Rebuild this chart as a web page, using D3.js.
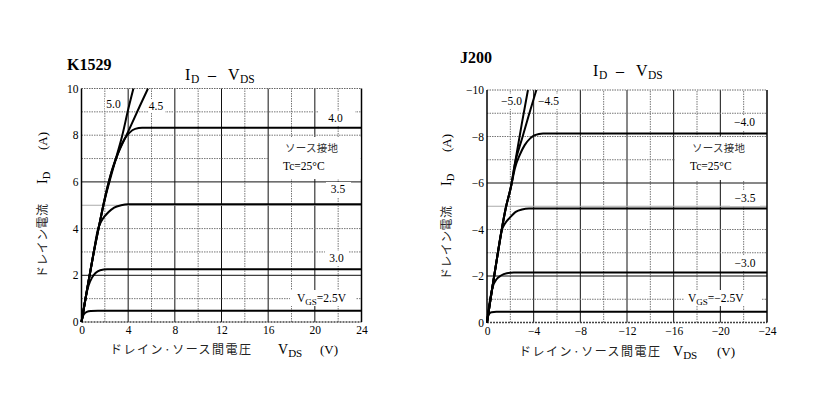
<!DOCTYPE html>
<html><head><meta charset="utf-8">
<script src="https://cdn.jsdelivr.net/npm/d3@7"></script>
<style>body{margin:0;background:#fff}</style>
</head><body>
<svg id="c" width="837" height="399" xmlns="http://www.w3.org/2000/svg"></svg>
<script>
// ---------- data ----------
const kVdsTicks = [0, 4, 8, 12, 16, 20, 24];
const kIdTicks = [0, 2, 4, 6, 8, 10];
const jVdsTicks = [0, -4, -8, -12, -16, -20, -24];
const jIdTicks = [0, -2, -4, -6, -8, -10];
const vdsGridSteps = [2, 4, 6, 8, 10, 12, 14, 16, 18, 20, 22];
const idGridSteps = [1, 2, 3, 4, 5, 6, 7, 8, 9];

// K1529 curves [VDS (V), ID (A)]
const k1529_25 = [[0,0],[0.1,0.22],[0.25,0.36],[0.45,0.43],[0.8,0.47],[1.4,0.48],[24,0.48]];
const k1529_30 = [[0,0],[0.2,0.6],[0.4,1.15],[0.6,1.55],[0.9,1.9],[1.2,2.1],[1.6,2.22],[2.2,2.26],[24,2.26]];
const k1529_35 = [[0,0],[0.5,1.45],[1,2.85],[1.4,3.95],[1.8,4.4],[2.3,4.7],[2.8,4.9],[3.4,5.0],[4,5.04],[24,5.04]];
const k1529_40 = [[0,0],[0.5,1.45],[1,2.85],[1.5,4.1],[2,5.25],[2.5,6.2],[2.9,6.9],[3.3,7.45],[3.7,7.85],[4.1,8.1],[4.6,8.27],[5.2,8.32],[24,8.32]];
const k1529_45 = [[0,0],[0.5,1.45],[1,2.85],[1.5,4.1],[2,5.3],[2.5,6.3],[3,7.05],[4,8.15],[5,9.25],[5.7,10]];
const k1529_50 = [[0,0],[0.5,1.45],[1,2.85],[1.5,4.1],[2,5.3],[2.5,6.3],[3,7.1],[3.5,8.0],[4,9.1],[4.45,10]];
const k1529Series = [k1529_25, k1529_30, k1529_35, k1529_40, k1529_45, k1529_50];

// J200 curves [VDS (V), ID (A)] (P-channel, negative)
const j200_25 = [[0,0],[-0.08,-0.25],[-0.2,-0.38],[-0.4,-0.44],[-0.8,-0.46],[-24,-0.46]];
const j200_30 = [[0,0],[-0.1,-0.45],[-0.25,-0.95],[-0.5,-1.55],[-0.8,-1.85],[-1.2,-2.02],[-1.7,-2.12],[-2.3,-2.15],[-24,-2.15]];
const j200_35 = [[0,0],[-0.3,-1.0],[-0.6,-1.95],[-0.9,-2.9],[-1.23,-3.9],[-1.6,-4.3],[-1.94,-4.5],[-2.5,-4.77],[-3.0,-4.86],[-3.6,-4.9],[-24,-4.9]];
const j200_40 = [[0,0],[-0.3,-1.0],[-0.6,-1.95],[-0.9,-2.9],[-1.23,-3.9],[-1.6,-4.9],[-2.08,-5.9],[-2.4,-6.65],[-2.8,-7.2],[-3.23,-7.63],[-3.7,-7.92],[-4.1,-8.06],[-4.8,-8.13],[-24,-8.13]];
const j200_45 = [[0,0],[-0.3,-1.0],[-0.6,-1.95],[-0.9,-2.9],[-1.23,-3.9],[-1.6,-4.9],[-2.08,-5.9],[-2.37,-6.77],[-3,-7.9],[-3.6,-8.95],[-4.23,-10]];
const j200_50 = [[0,0],[-0.3,-1.0],[-0.6,-1.95],[-0.9,-2.9],[-1.23,-3.9],[-1.6,-4.9],[-2.08,-5.9],[-2.37,-6.77],[-3,-8.6],[-3.51,-10]];
const j200Series = [j200_25, j200_30, j200_35, j200_40, j200_45, j200_50];

// texts
const kVgsLabels = ["VGS=2.5V", "3.0", "3.5", "4.0", "4.5", "5.0"];
const jVgsLabels = ["VGS=−2.5V", "−3.0", "−3.5", "−4.0", "−4.5", "−5.0"];
const partNames = ["K1529", "J200"];
const noteLines = ["ソース接地", "Tc=25°C"];
const yLabelJP = "ドレイン電流";
const xLabelJP = "ドレイン·ソース間電圧";

// ---------- drawing ----------
const svg = d3.select("#c");
const serif = "'Liberation Serif','DejaVu Serif',serif";
const jp = "'Noto Sans CJK JP','Noto Sans CJK SC',sans-serif";

function sub(g, x, y, parts, size, subSize, anchor) {
  const t = g.append("text").attr("x", x).attr("y", y)
    .attr("font-family", serif).attr("font-size", size).attr("fill", "#000")
    .attr("text-anchor", anchor || "start");
  let shifted = false;
  parts.forEach(p => {
    const s = t.append("tspan").text(p[0]);
    if (p[2] !== undefined) s.attr("x", p[2]);
    if (p[1] && !shifted) { s.attr("dy", 3).attr("font-size", subSize); shifted = true; }
    else if (p[1]) { s.attr("font-size", subSize); }
    else if (!p[1] && shifted) { s.attr("dy", -3); shifted = false; }
  });
  return t;
}

function drawChart(cfg) {
  const sgn = cfg.sign;
  const x = d3.scaleLinear().domain([0, 24 * sgn]).range([cfg.x0, cfg.x1]);
  const y = d3.scaleLinear().domain([0, 10 * sgn]).range([cfg.y0, cfg.y1]);
  const g = svg.append("g");

  // vertical grid
  g.selectAll("line.vg").data(vdsGridSteps).join("line")
    .attr("x1", d => x(d * sgn)).attr("x2", d => x(d * sgn))
    .attr("y1", y(0)).attr("y2", y(10 * sgn))
    .attr("stroke", d => d % 4 === 0 ? "#111" : "#777")
    .attr("stroke-width", 1)
    .attr("stroke-dasharray", d => d % 4 === 0 ? null : "1.5,1");
  // horizontal grid
  g.selectAll("line.hg").data(idGridSteps).join("line")
    .attr("x1", x(0)).attr("x2", x(24 * sgn))
    .attr("y1", d => y(d * sgn)).attr("y2", d => y(d * sgn))
    .attr("stroke", d => (d === 2 || d === 6) ? "#111" : (d === 5 ? "#aaa" : "#777"))
    .attr("stroke-width", 1)
    .attr("stroke-dasharray", d => (d === 2 || d === 6 || d === 5) ? null : "1.5,1");
  // top and bottom borders
  g.append("line").attr("x1", x(0)).attr("x2", x(24 * sgn)).attr("y1", y(10 * sgn)).attr("y2", y(10 * sgn))
    .attr("stroke", "#666").attr("stroke-dasharray", "1.5,1");
  g.append("line").attr("x1", x(0)).attr("x2", x(24 * sgn)).attr("y1", y(0)).attr("y2", y(0))
    .attr("stroke", "#444").attr("stroke-width", 1.3).attr("stroke-dasharray", "2,1");
  // left axis + right frame
  g.append("line").attr("x1", x(0)).attr("x2", x(0)).attr("y1", y(0)).attr("y2", y(10 * sgn))
    .attr("stroke", "#000").attr("stroke-width", 1.5);
  g.append("line").attr("x1", x(24 * sgn)).attr("x2", x(24 * sgn)).attr("y1", y(0)).attr("y2", y(10 * sgn))
    .attr("stroke", "#000").attr("stroke-width", 1.5);

  // white label boxes
  cfg.boxes.forEach(b => g.append("rect").attr("x", b[0]).attr("y", b[1])
    .attr("width", b[2] - b[0]).attr("height", b[3] - b[1]).attr("fill", "#fff"));

  // curves
  const line = d3.line().x(d => x(d[0])).y(d => y(d[1])).curve(d3.curveMonotoneX);
  g.selectAll("path.c").data(cfg.series).join("path")
    .attr("d", line).attr("fill", "none").attr("stroke", "#000").attr("stroke-width", 2)
    .attr("stroke-linejoin", "round");

  // axes tick labels
  const fmt = d3.format("d");
  const ya = g.append("g").attr("transform", `translate(${x(0)},0)`)
    .call(d3.axisLeft(y).tickValues(cfg.yTicks).tickSize(0).tickPadding(cfg.yPad).tickFormat(fmt));
  ya.select(".domain").remove();
  ya.selectAll("text").attr("font-family", serif).attr("font-size", 11.5).attr("fill", "#000");
  const xa = g.append("g").attr("transform", `translate(0,${y(0)})`)
    .call(d3.axisBottom(x).tickValues(cfg.xTicks).tickSize(0).tickPadding(4).tickFormat(fmt));
  xa.select(".domain").remove();
  xa.selectAll("text").attr("font-family", serif).attr("font-size", 11.5).attr("fill", "#000");

  // VGS labels
  cfg.labelPos.forEach((p, i) => {
    const txt = cfg.vgs[i];
    if (txt.startsWith("VGS")) {
      sub(g, p[0], p[1], [["V", false], ["GS", true], [txt.slice(3), false]], 11.5, 9, "start");
    } else {
      g.append("text").attr("x", p[0]).attr("y", p[1]).attr("text-anchor", "middle")
        .attr("font-family", serif).attr("font-size", 11.5).text(txt);
    }
  });
  // note
  g.append("text").attr("x", cfg.note[0]).attr("y", cfg.note[1]).attr("font-family", jp)
    .attr("font-size", 10.5).attr("fill", "#333").attr("textLength", 53).attr("lengthAdjust", "spacing").text(noteLines[0]);
  g.append("text").attr("x", cfg.note[0] - 2).attr("y", cfg.note[1] + 18).attr("font-family", serif)
    .attr("font-size", 11.5).text(noteLines[1]);

  // part name
  g.append("text").attr("x", cfg.name[0]).attr("y", cfg.name[1]).attr("font-family", serif)
    .attr("font-weight", "bold").attr("font-size", 16).text(cfg.partName);

  // title ID – VDS
  const tx = cfg.title[0], tyy = cfg.title[1];
  sub(g, tx, tyy, [["I", false, tx], ["D", true, tx + 6], ["–", false, tx + 23], ["V", false, tx + 43], ["DS", true, tx + 55]], 16, 11.5);

  // y label rotated
  const yl = g.append("g").attr("transform", `translate(${cfg.ylab[0]},${cfg.ylab[1]}) rotate(-90)`);
  yl.append("text").attr("x", 0).attr("y", 0).attr("font-family", jp).attr("font-size", 12)
    .attr("fill", "#222").attr("textLength", 74).attr("lengthAdjust", "spacing").text(yLabelJP);
  sub(yl, 94, 0, [["I", false], ["D", true]], 14, 10.5);
  yl.append("text").attr("x", 128).attr("y", 0).attr("font-family", serif).attr("font-size", 13).text("(A)");

  // x label
  const xl = cfg.xlab;
  g.append("text").attr("x", xl[0]).attr("y", xl[1]).attr("font-family", jp).attr("font-size", 12)
    .attr("fill", "#222").attr("textLength", 141).attr("lengthAdjust", "spacing").text(xLabelJP);
  sub(g, xl[2], xl[1], [["V", false], ["DS", true]], 14, 11);
  g.append("text").attr("x", xl[3]).attr("y", xl[1]).attr("font-family", serif).attr("font-size", 13).text("(V)");
}

drawChart({
  sign: 1, x0: 81.5, x1: 361.5, y0: 322, y1: 88.5,
  series: k1529Series, vgs: kVgsLabels, xTicks: kVdsTicks, yTicks: kIdTicks, yPad: 3,
  partName: partNames[0], name: [67, 70], title: [185, 80],
  labelPos: [[297, 302], [336.5, 262], [338, 193], [335.5, 122], [156, 110], [113.5, 108]],
  boxes: [[290, 290, 356, 306], [325, 251, 348, 266], [326, 182, 351, 197], [318, 111, 355, 126],
          [269, 137, 360.5, 179], [105, 97, 123, 111], [148, 99, 165, 113]],
  note: [285, 152], ylab: [47, 278], xlab: [110, 354, 278, 320]
});
drawChart({
  sign: -1, x0: 487, x1: 767, y0: 322.5, y1: 90,
  series: j200Series, vgs: jVgsLabels, xTicks: jVdsTicks, yTicks: jIdTicks, yPad: 3,
  partName: partNames[1], name: [460, 63], title: [593, 76],
  labelPos: [[688, 302], [745, 267], [745, 202], [744.5, 126], [548.5, 105], [511.5, 105]],
  boxes: [[684, 290, 761, 306], [730, 256, 760, 271], [730, 191, 760, 206], [729, 115, 760, 130],
          [675, 137, 766, 180], [498, 94, 525, 109], [535, 94, 562, 109]],
  note: [692, 152], ylab: [451, 280], xlab: [519, 356, 673, 717]
});
</script>
</body></html>
